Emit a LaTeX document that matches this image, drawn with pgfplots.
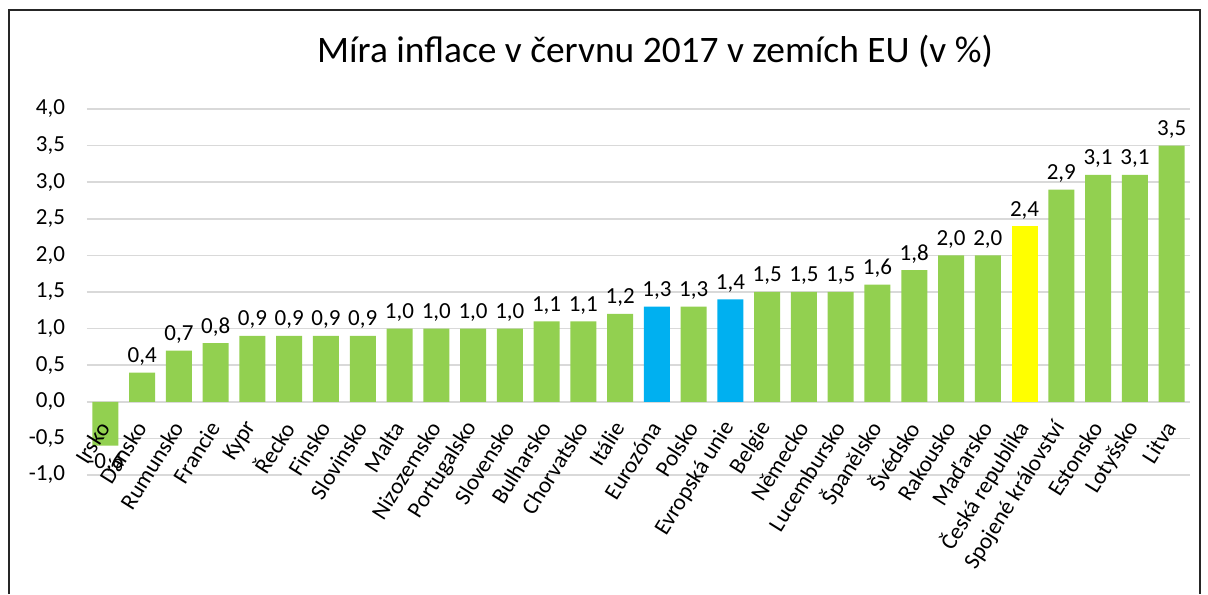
\documentclass[border=0pt]{standalone}
\usepackage{fontspec}
\setmainfont{Carlito}
\usepackage{pgfplots}
\pgfplotsset{compat=1.18}
\definecolor{barGreen}{HTML}{92D050}
\definecolor{barBlue}{HTML}{00B0F0}
\definecolor{barYellow}{HTML}{FFFF00}
\definecolor{gridGray}{HTML}{D9D9D9}

\pgfplotsset{
  frame/.style={
    at={(43.5pt,59.5pt)}, anchor=south west,
    scale only axis,
    width=551.5pt, height=183pt,
    xmin=-0.5, xmax=29.5,
    ymin=-1, ymax=4,
    ytick={-1,-0.5,...,4},
    xtick={0,...,29},
    axis x line=middle, axis y line=left,
    hide obscured x ticks=false, hide obscured y ticks=false,
    axis line style={draw=none},
    major tick length=0pt,
    /pgf/number format/.cd, use comma, fixed, fixed zerofill, precision=1, assume math mode=true,
    /pgfplots/.cd,
  },
}

\begin{document}
\begin{tikzpicture}
\path[use as bounding box] (0,0) rectangle (604pt,297pt);
\draw[line width=1pt, black!85] (4.5pt,0) -- (4.5pt,292pt) -- (600pt,292pt) -- (600pt,0);
\node[anchor=base, font=\fontsize{18.7}{22}\selectfont] at (327.5pt,265.5pt)
  {Míra inflace v červnu 2017 v zemích EU (v~\%)};
% bars, grid, values
\begin{axis}[
    frame,
    ybar, bar width=13pt, bar shift=0pt,
    xticklabels={},
    x axis line style={draw=gridGray, line width=0.8pt, -},
    ymajorgrids, grid style={gridGray, line width=0.8pt},
    yticklabel style={font=\fontsize{11.5}{13}\selectfont, xshift=-7.5pt},
    nodes near coords,
    nodes near coords style={font=\fontsize{11.5}{13}\selectfont, black},
]
\addplot[fill=barGreen, draw=none] coordinates {
(0,-0.6) (1,0.4) (2,0.7) (3,0.8) (4,0.9) (5,0.9) (6,0.9) (7,0.9) (8,1.0) (9,1.0)
(10,1.0) (11,1.0) (12,1.1) (13,1.1) (14,1.2) (16,1.3) (18,1.5) (19,1.5) (20,1.5)
(21,1.6) (22,1.8) (23,2.0) (24,2.0) (26,2.9) (27,3.1) (28,3.1) (29,3.5)};
\addplot[fill=barBlue, draw=none] coordinates {(15,1.3) (17,1.4)};
\addplot[fill=barYellow, draw=none] coordinates {(25,2.4)};
\end{axis}
% category names, drawn over the bars
\begin{axis}[
    frame,
    yticklabels={},
    xticklabels={Irsko,Dánsko,Rumunsko,Francie,Kypr,Řecko,Finsko,Slovinsko,Malta,Nizozemsko,Portugalsko,Slovensko,Bulharsko,Chorvatsko,Itálie,Eurozóna,Polsko,Evropská unie,Belgie,Německo,Lucembursko,Španělsko,Švédsko,Rakousko,Maďarsko,Česká republika,Spojené království,Estonsko,Lotyšsko,Litva},
    xticklabel shift=10pt,
    xticklabel style={font=\fontsize{11.5}{13}\selectfont, rotate=58, anchor=east, inner sep=1pt},
]
\end{axis}
\end{tikzpicture}
\end{document}
